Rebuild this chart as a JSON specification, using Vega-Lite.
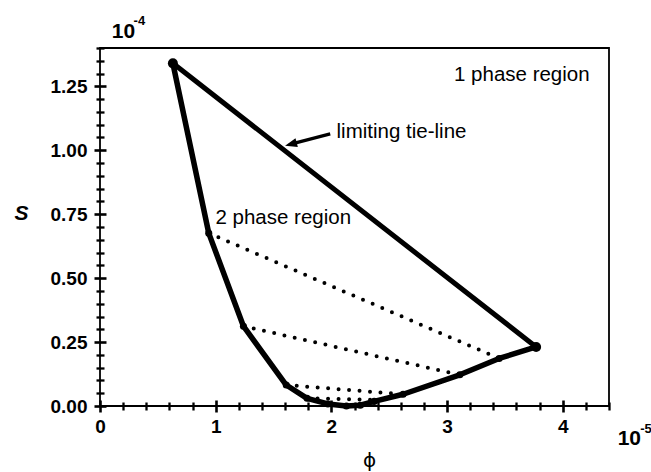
{
  "$schema": "https://vega.github.io/schema/vega-lite/v6.json",
  "width": 509,
  "height": 358,
  "autosize": {"type": "none"},
  "padding": {"left": 100, "top": 48, "right": 42, "bottom": 66},
  "background": "white",
  "config": {
    "font": "Liberation Sans",
    "view": {"stroke": "black", "strokeWidth": 1.8}
  },
  "datasets": {
    "binodal": [
      {"i": 1, "u": 0.63, "v": 1.34},
      {"i": 2, "u": 0.94, "v": 0.676},
      {"i": 3, "u": 1.24, "v": 0.312},
      {"i": 4, "u": 1.61, "v": 0.082},
      {"i": 5, "u": 1.79, "v": 0.03},
      {"i": 6, "u": 1.97, "v": 0.008},
      {"i": 7, "u": 2.13, "v": 0.0},
      {"i": 8, "u": 2.25, "v": 0.003},
      {"i": 9, "u": 2.37, "v": 0.018},
      {"i": 10, "u": 2.62, "v": 0.046},
      {"i": 11, "u": 3.11, "v": 0.122},
      {"i": 12, "u": 3.45, "v": 0.186},
      {"i": 13, "u": 3.77, "v": 0.231}
    ],
    "ties": [
      {"tie": 1, "i": 1, "u": 0.94, "v": 0.676},
      {"tie": 1, "i": 2, "u": 3.45, "v": 0.186},
      {"tie": 2, "i": 1, "u": 1.24, "v": 0.312},
      {"tie": 2, "i": 2, "u": 3.11, "v": 0.122},
      {"tie": 3, "i": 1, "u": 1.61, "v": 0.082},
      {"tie": 3, "i": 2, "u": 2.62, "v": 0.046},
      {"tie": 4, "i": 1, "u": 1.79, "v": 0.03},
      {"tie": 4, "i": 2, "u": 2.38, "v": 0.024}
    ],
    "limit": [
      {"i": 1, "u": 0.63, "v": 1.34},
      {"i": 2, "u": 3.77, "v": 0.231}
    ],
    "arrow": [
      {"i": 1, "u": 1.99, "v": 1.064},
      {"i": 2, "u": 1.65, "v": 1.024}
    ],
    "arrowhead": [
      {"u": 1.65, "v": 1.024}
    ],
    "notes": [
      {"text": "1 phase region", "u": 3.06, "v": 1.271},
      {"text": "limiting tie-line", "u": 2.045, "v": 1.049},
      {"text": "2 phase region", "u": 0.998, "v": 0.71}
    ],
    "base": [
      {"text": "10", "u": 0.102, "v": 1.441},
      {"text": "10", "u": 4.475, "v": -0.152}
    ],
    "exps": [
      {"text": "-4", "u": 0.29, "v": 1.49},
      {"text": "-5", "u": 4.67, "v": -0.105}
    ]
  },
  "resolve": {"axis": {"x": "independent", "y": "independent"}},
  "layer": [
    {
      "data": {"name": "binodal"},
      "mark": {"type": "line", "color": "black", "strokeWidth": 5.5, "strokeJoin": "round", "strokeCap": "round"},
      "encoding": {
        "x": {"field": "u", "type": "quantitative", "scale": {"domain": [0, 4.4], "nice": false, "zero": false},
          "axis": {"orient": "bottom", "values": [0, 1, 2, 3, 4], "format": "d", "offset": -6, "tickSize": 12, "tickColor": "black", "tickWidth": 2.6, "domain": false, "gridOpacity": 0, "labelFlush": false,
            "labelFontSize": 19, "labelFontWeight": "bold", "labelColor": "black", "labelPadding": 5,
            "title": "ϕ", "titleFont": "DejaVu Sans", "titleColor": "black", "titleFontSize": 20, "titleFontWeight": "normal", "titleX": 269, "titleY": 60, "titleAlign": "center", "titleBaseline": "middle"}},
        "y": {"field": "v", "type": "quantitative", "scale": {"domain": [0, 1.4], "nice": false, "zero": false},
          "axis": {"orient": "left", "values": [0, 0.25, 0.5, 0.75, 1.0, 1.25], "format": ".2f", "offset": -6, "tickSize": 12, "tickColor": "black", "tickWidth": 2.6, "domain": false, "gridOpacity": 0,
            "labelFontSize": 19, "labelFontWeight": "bold", "labelColor": "black", "labelPadding": 7,
            "title": "S", "titleColor": "black", "titleFontSize": 21, "titleFontWeight": "bold", "titleFontStyle": "italic", "titleAngle": 0, "titleX": -85, "titleY": 165, "titleAlign": "center", "titleBaseline": "middle"}},
        "order": {"field": "i", "type": "quantitative"}
      }
    },
    {
      "data": {"name": "ties"},
      "mark": {"type": "line", "color": "black", "strokeWidth": 4, "strokeCap": "round", "strokeDash": [0, 10.5]},
      "encoding": {
        "x": {"field": "u", "type": "quantitative",
          "axis": {"orient": "bottom", "values": [0.2, 0.4, 0.6, 0.8, 1.2, 1.4, 1.6, 1.8, 2.2, 2.4, 2.6, 2.8, 3.2, 3.4, 3.6, 3.8, 4.2, 4.4], "offset": -4, "tickSize": 8, "tickColor": "black", "tickWidth": 2.3, "domain": false, "gridOpacity": 0, "labels": false, "title": null}},
        "y": {"field": "v", "type": "quantitative",
          "axis": {"orient": "left", "values": [0.05, 0.1, 0.15, 0.2, 0.3, 0.35, 0.4, 0.45, 0.55, 0.6, 0.65, 0.7, 0.8, 0.85, 0.9, 0.95, 1.05, 1.1, 1.15, 1.2, 1.3, 1.35, 1.4], "offset": -4, "tickSize": 8, "tickColor": "black", "tickWidth": 2.3, "domain": false, "gridOpacity": 0, "labels": false, "title": null}},
        "detail": {"field": "tie", "type": "nominal"},
        "order": {"field": "i", "type": "quantitative"}
      }
    },
    {
      "data": {"name": "binodal"},
      "transform": [{"filter": "datum.i > 1 && datum.i < 13"}],
      "mark": {"type": "circle", "color": "black", "opacity": 1, "size": 50},
      "encoding": {
        "x": {"field": "u", "type": "quantitative", "axis": null},
        "y": {"field": "v", "type": "quantitative", "axis": null}
      }
    },
    {
      "data": {"name": "binodal"},
      "transform": [{"filter": "datum.i == 1 || datum.i == 13"}],
      "mark": {"type": "circle", "color": "black", "opacity": 1, "size": 100},
      "encoding": {
        "x": {"field": "u", "type": "quantitative", "axis": null},
        "y": {"field": "v", "type": "quantitative", "axis": null}
      }
    },
    {
      "data": {"name": "limit"},
      "mark": {"type": "line", "color": "black", "strokeWidth": 5, "strokeCap": "round"},
      "encoding": {
        "x": {"field": "u", "type": "quantitative", "axis": null},
        "y": {"field": "v", "type": "quantitative", "axis": null},
        "order": {"field": "i", "type": "quantitative"}
      }
    },
    {
      "data": {"name": "arrow"},
      "mark": {"type": "line", "color": "black", "strokeWidth": 3.2},
      "encoding": {
        "x": {"field": "u", "type": "quantitative", "axis": null},
        "y": {"field": "v", "type": "quantitative", "axis": null},
        "order": {"field": "i", "type": "quantitative"}
      }
    },
    {
      "data": {"name": "arrowhead"},
      "mark": {"type": "point", "shape": "M0,-1L0.75,1L-0.75,1Z", "filled": true, "color": "black", "opacity": 1, "size": 144, "angle": 255},
      "encoding": {
        "x": {"field": "u", "type": "quantitative", "axis": null},
        "y": {"field": "v", "type": "quantitative", "axis": null}
      }
    },
    {
      "data": {"name": "notes"},
      "mark": {"type": "text", "align": "left", "baseline": "alphabetic", "fontSize": 20.5, "color": "black"},
      "encoding": {
        "x": {"field": "u", "type": "quantitative", "axis": null},
        "y": {"field": "v", "type": "quantitative", "axis": null},
        "text": {"field": "text"}
      }
    },
    {
      "data": {"name": "base"},
      "mark": {"type": "text", "align": "left", "baseline": "alphabetic", "fontSize": 21, "fontWeight": "bold", "color": "black"},
      "encoding": {
        "x": {"field": "u", "type": "quantitative", "axis": null},
        "y": {"field": "v", "type": "quantitative", "axis": null},
        "text": {"field": "text"}
      }
    },
    {
      "data": {"name": "exps"},
      "mark": {"type": "text", "align": "left", "baseline": "alphabetic", "fontSize": 13, "fontWeight": "bold", "color": "black"},
      "encoding": {
        "x": {"field": "u", "type": "quantitative", "axis": null},
        "y": {"field": "v", "type": "quantitative", "axis": null},
        "text": {"field": "text"}
      }
    }
  ]
}
